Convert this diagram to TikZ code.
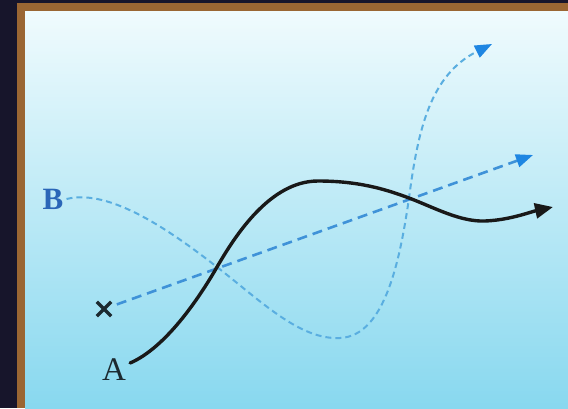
\documentclass[tikz,border=0pt]{standalone}
\usepackage{fontspec}
\setmainfont{Liberation Serif}
\usetikzlibrary{arrows.meta,shapes.misc}
\definecolor{navy}{HTML}{17152B}
\definecolor{frame}{HTML}{9A6633}
\definecolor{bgtop}{HTML}{F0FBFD}
\definecolor{bgbot}{HTML}{88D8EF}
\definecolor{blab}{HTML}{2A66B8}
\definecolor{alab}{HTML}{1C2A30}
\definecolor{dashA}{HTML}{3F92D8}
\definecolor{dashB}{HTML}{5AAEE0}
\definecolor{tipblue}{HTML}{1E86E2}
\tikzset{
  lab/.style={inner sep=1pt,font=\fontsize{33}{33}\selectfont},
  blacktraj/.style={line width=3.4pt,draw=black!90,line cap=round,
     -{Triangle[length=18pt,width=15pt]}},
  straightdash/.style={line width=2.6pt,draw=dashA,dash pattern=on 10pt off 6pt,
     -{Triangle[length=17pt,width=13pt,color=tipblue,fill=tipblue]}},
  curvedash/.style={line width=2pt,draw=dashB,dash pattern=on 6pt off 4pt,
     -{Triangle[length=17pt,width=13pt,color=tipblue,fill=tipblue]}},
}
\begin{document}
\begin{tikzpicture}[x=1pt,y=-1pt]
\useasboundingbox (0,0) rectangle (568,408);
\fill[navy] (0,0) rectangle (568,408);
\fill[frame] (17,3) rectangle (568,408);
\shade[top color=bgtop,bottom color=bgbot] (25,11) rectangle (568,408);
\node[lab,text=blab,font=\fontsize{31}{31}\selectfont\bfseries] (B) at (53,199) {B};
\node[lab,text=alab] (A) at (114,370) {A};
\node[cross out,draw=alab,line width=3.4pt,minimum size=11pt,inner sep=0pt] (X) at (104,309) {};
\coordinate (c1) at (217,267);
\coordinate (c2) at (409,198);
\coordinate (tipS) at (533,155);
\coordinate (tipB) at (492,44);
\coordinate (tipA) at (553,207);
% straight dashed
\draw[straightdash,shorten <=6pt] (X) -- (tipS);
% curved dashed from B
\draw[curvedash] ([xshift=2pt]B.east) .. controls (110,188) and (172,232) .. (c1)
  .. controls (262,302) and (300,340) .. (340,338)
  .. controls (385,336) and (400,260) .. (c2)
  .. controls (418,130) and (430,75) .. (tipB);
% black trajectory from A
\draw[blacktraj] ([xshift=3pt,yshift=7pt]A.east) .. controls (165,348) and (198,300) .. (c1)
  .. controls (235,236) and (270,181) .. (318,181)
  .. controls (358,181) and (385,189) .. (c2)
  .. controls (433,207) and (460,222) .. (485,221)
  .. controls (510,220) and (530,212) .. (tipA);
\end{tikzpicture}
\end{document}
